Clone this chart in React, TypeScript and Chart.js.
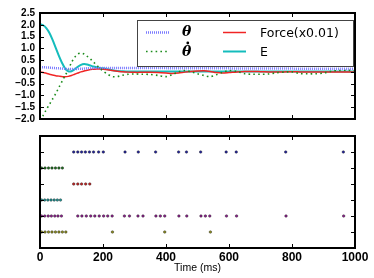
import { useEffect, useRef } from "react";
import { Chart, registerables } from "chart.js";

Chart.register(...registerables);

// ---- data ----
const timeMs = [
  0, 10, 20, 30, 40, 50, 60, 70, 80, 90, 100, 110, 120, 130, 140, 150, 160, 170, 180, 190, 200,
  215, 230, 245, 260, 280, 300, 325, 350, 375, 400, 420, 440, 460, 480, 500, 520, 540, 560, 580, 600,
  625, 650, 675, 700, 725, 750, 775, 800, 825, 850, 875, 900, 925, 950, 975, 1000,
];
const theta = [
  0.2, 0.2, 0.19, 0.18, 0.17, 0.16, 0.15, 0.14, 0.13, 0.12, 0.12, 0.12, 0.13, 0.13, 0.14, 0.15, 0.15, 0.16, 0.16, 0.16, 0.16,
  0.16, 0.16, 0.16, 0.16, 0.16, 0.16, 0.16, 0.16, 0.16, 0.16, 0.15, 0.15, 0.15, 0.15, 0.15, 0.15, 0.15, 0.15, 0.15, 0.15,
  0.14, 0.14, 0.14, 0.14, 0.14, 0.14, 0.14, 0.14, 0.13, 0.13, 0.13, 0.13, 0.13, 0.13, 0.13, 0.13,
];
const thetaDot = [
  -2.05, -1.85, -1.6, -1.38, -1.15, -0.92, -0.66, -0.4, -0.15, 0.1, 0.4, 0.62, 0.76, 0.8, 0.76, 0.66, 0.55, 0.42, 0.28, 0.16, 0.04,
  -0.1, -0.2, -0.2, -0.15, -0.1, -0.09, -0.1, -0.11, -0.15, -0.2, -0.12, 0.0, 0.06, 0.0, -0.08, -0.15, -0.2, -0.12, -0.02, 0.06,
  0.02, -0.08, -0.1, -0.1, -0.09, -0.04, -0.01, 0.0, -0.07, -0.08, -0.08, -0.05, 0.03, 0.06, 0.07, 0.05,
];
const force = [
  0.0, -0.03, -0.06, -0.1, -0.13, -0.16, -0.18, -0.2, -0.21, -0.19, -0.15, -0.1, -0.05, 0.0, 0.04, 0.07, 0.1, 0.11, 0.12, 0.12, 0.11,
  0.09, 0.06, 0.03, 0.01, -0.01, -0.02, -0.02, -0.02, -0.03, -0.05, -0.07, -0.05, -0.01, 0.02, 0.04, 0.05, 0.02, -0.03, -0.05, -0.03,
  0.0, 0.02, 0.02, 0.01, 0.0, -0.01, 0.0, 0.01, 0.0, 0.0, 0.0, 0.0, 0.0, 0.0, 0.0, 0.0,
];
const energy = [
  2.02, 1.98, 1.86, 1.65, 1.36, 1.02, 0.68, 0.38, 0.14, 0.02, 0.03, 0.11, 0.22, 0.3, 0.33, 0.31, 0.27, 0.23, 0.2, 0.17, 0.15,
  0.11, 0.07, 0.04, 0.03, 0.02, 0.02, 0.02, 0.02, 0.02, 0.02, 0.02, 0.02, 0.02, 0.02, 0.02, 0.02, 0.02, 0.02, 0.02, 0.02,
  0.02, 0.02, 0.02, 0.02, 0.02, 0.02, 0.02, 0.02, 0.02, 0.02, 0.02, 0.02, 0.02, 0.02, 0.02, 0.02,
];

const xTicks = [0, 200, 400, 600, 800, 1000];
const yTicksTop = [-2, -1.5, -1, -0.5, 0, 0.5, 1, 1.5, 2, 2.5];
const rasterRows = [1, 2, 3, 4, 5, 6];

const spikesOlive = [5, 16, 27, 38, 49, 60, 71, 82, 230, 396, 541];
const spikesPurple = [
  5, 15, 26, 36, 47, 57, 68, 120, 133, 147, 161, 174, 188, 202, 215, 229, 268, 284, 311, 327, 368, 382, 396,
  441, 466, 511, 525, 539, 592, 624, 781, 964,
];
const spikesCyan = [5, 15, 25, 35, 45, 55, 65];
const spikesRed = [107, 120, 132, 145, 158];
const spikesGreen = [5, 16, 27, 38, 49, 60, 71];
const spikesBlue = [107, 120, 132, 144, 157, 170, 186, 201, 270, 312, 367, 440, 465, 510, 591, 623, 780, 963];

const rasterSpikes = [spikesOlive, spikesPurple, spikesCyan, spikesRed, spikesGreen, spikesBlue];
const rasterColors = ["#8c8c1e", "#8c1e8c", "#1e9494", "#c42020", "#1e6e1e", "#22229c"];

const fmtTick = (v: number) => (v < 0 ? "\u2212" : "") + Math.abs(v).toFixed(1);

function makeFramePlugin(xt: number[], yt: number[]) {
  return {
    id: "frameTicks",
    afterDatasetsDraw(chart: any) {
      const { ctx, chartArea: a, scales } = chart;
      ctx.save();
      ctx.strokeStyle = "#000";
      ctx.lineWidth = 1;
      const L = 4;
      ctx.beginPath();
      for (const v of xt) {
        const px = Math.round(scales.x.getPixelForValue(v)) + 0.5;
        ctx.moveTo(px, a.top);
        ctx.lineTo(px, a.top + L);
        ctx.moveTo(px, a.bottom);
        ctx.lineTo(px, a.bottom - L);
      }
      for (const v of yt) {
        const py = Math.round(scales.y.getPixelForValue(v)) + 0.5;
        ctx.moveTo(a.left, py);
        ctx.lineTo(a.left + L, py);
        ctx.moveTo(a.right, py);
        ctx.lineTo(a.right - L, py);
      }
      ctx.stroke();
      ctx.lineWidth = 2;
      ctx.strokeRect(a.left, a.top, a.right - a.left, a.bottom - a.top);
      ctx.restore();
    },
  };
}

const legendPlugin = {
  id: "customLegend",
  afterDraw(chart: any) {
    const { ctx, chartArea: a } = chart;
    const ds = chart.data.datasets;
    const bx = a.right - 218;
    const by = a.top + 6.5;
    const bw = 216;
    const bh = 46;
    ctx.save();
    ctx.fillStyle = "#fff";
    ctx.fillRect(bx, by, bw, bh);
    ctx.strokeStyle = "#444";
    ctx.lineWidth = 1;
    ctx.strokeRect(Math.round(bx) + 0.5, Math.round(by) + 0.5, bw, bh);
    const slots = [
      { i: 0, col: 0, row: 0 },
      { i: 2, col: 1, row: 0 },
      { i: 1, col: 0, row: 1 },
      { i: 3, col: 1, row: 1 },
    ];
    const colSample = [9, 86];
    const colText = [45, 123];
    const rowY = [13, 32];
    for (const s of slots) {
      const d = ds[s.i];
      const y = by + rowY[s.row];
      ctx.strokeStyle = d.borderColor;
      ctx.lineWidth = d.borderWidth;
      ctx.setLineDash(d.borderDash || []);
      ctx.beginPath();
      ctx.moveTo(bx + colSample[s.col], y);
      ctx.lineTo(bx + colSample[s.col] + 23, y);
      ctx.stroke();
      ctx.setLineDash([]);
      ctx.fillStyle = "#000";
      ctx.textBaseline = "middle";
      ctx.textAlign = "left";
      const label: string = d.label;
      const isGreek = label.startsWith("\u03b8");
      ctx.font = isGreek ? "bold italic 14px 'DejaVu Serif'" : "12.5px 'DejaVu Sans'";
      const tx = bx + colText[s.col];
      if (label.includes("\u0307")) {
        const base = label.replace("\u0307", "");
        ctx.fillText(base, tx, y + 1);
        const w = ctx.measureText(base).width;
        ctx.beginPath();
        ctx.arc(tx + w * 0.62, y - 8.5, 1.4, 0, Math.PI * 2);
        ctx.fill();
      } else {
        ctx.fillText(label, tx, y + (isGreek ? 0 : 1));
      }
    }
    ctx.restore();
  },
};

export default function App() {
  const topRef = useRef<HTMLCanvasElement | null>(null);
  const botRef = useRef<HTMLCanvasElement | null>(null);

  useEffect(() => {
    const pts = (arr: number[]) => timeMs.map((t, k) => ({ x: t, y: arr[k] }));
    const top = new Chart(topRef.current as HTMLCanvasElement, {
      type: "line",
      data: {
        datasets: [
          { label: "\u03b8", data: pts(theta), borderColor: "#7b7bff", borderWidth: 2.5, borderDash: [1, 1], pointRadius: 0, tension: 0.3 },
          { label: "\u03b8\u0307", data: pts(thetaDot), borderColor: "#1c8c1c", borderWidth: 1.6, borderDash: [1.6, 3.2], pointRadius: 0, tension: 0.3 },
          { label: "Force(x0.01)", data: pts(force), borderColor: "#f02424", borderWidth: 1.5, pointRadius: 0, tension: 0.3 },
          { label: "E", data: pts(energy), borderColor: "#14bcbc", borderWidth: 2, pointRadius: 0, tension: 0.3 },
        ] as any,
      },
      options: {
        animation: false,
        responsive: false,
        layout: { padding: { left: 0, right: 19, top: 13, bottom: 5 } },
        plugins: { legend: { display: false }, tooltip: { enabled: false } },
        scales: {
          x: { type: "linear", display: false, min: 0, max: 1000 },
          y: {
            type: "linear",
            min: -2,
            max: 2.5,
            afterBuildTicks: (s: any) => {
              s.ticks = yTicksTop.map((v) => ({ value: v }));
            },
            afterFit: (s: any) => {
              s.width = 40;
            },
            grid: { display: false, drawTicks: false },
            border: { display: false },
            ticks: {
              padding: 5,
              color: "#000",
              autoSkip: false,
              font: { family: "'Liberation Sans'", size: 10, weight: "bold" },
              callback: (v: any) => fmtTick(Number(v)),
            },
          },
        },
      } as any,
      plugins: [makeFramePlugin(xTicks, yTicksTop), legendPlugin],
    });

    const bot = new Chart(botRef.current as HTMLCanvasElement, {
      type: "scatter",
      data: {
        datasets: rasterRows.map((row, k) => ({
          label: "row" + row,
          data: rasterSpikes[k].map((t) => ({ x: t, y: row })),
          backgroundColor: rasterColors[k],
          borderColor: "#222",
          borderWidth: 0.4,
          pointRadius: 1.3,
          showLine: false,
        })),
      },
      options: {
        animation: false,
        responsive: false,
        layout: { padding: { left: 40, right: 19, top: 6, bottom: 0 } },
        plugins: { legend: { display: false }, tooltip: { enabled: false } },
        scales: {
          x: {
            type: "linear",
            min: 0,
            max: 1000,
            afterBuildTicks: (s: any) => {
              s.ticks = xTicks.map((v) => ({ value: v }));
            },
            afterFit: (s: any) => {
              s.height = 30;
            },
            grid: { display: false, drawTicks: false },
            border: { display: false },
            ticks: {
              padding: 2,
              color: "#000",
              autoSkip: false,
              maxRotation: 0,
              font: { family: "'Liberation Sans'", size: 12, weight: "bold" },
              callback: (v: any) => String(v),
            },
            title: {
              display: true,
              text: "Time (ms)",
              color: "#000",
              font: { family: "'Liberation Sans'", size: 10.5 },
              padding: { top: 0, bottom: 4 },
            },
          },
          y: {
            type: "linear",
            display: false,
            min: 0,
            max: 7,
            afterBuildTicks: (s: any) => {
              s.ticks = rasterRows.map((v) => ({ value: v }));
            },
          },
        },
      } as any,
      plugins: [makeFramePlugin(xTicks, rasterRows)],
    });

    return () => {
      top.destroy();
      bot.destroy();
    };
  }, []);

  return (
    <div style={{ position: "fixed", left: 0, top: 0, width: 374, height: 278, background: "#fff" }}>
      <canvas ref={topRef} width={374} height={130} style={{ position: "absolute", left: 0, top: 0 }} />
      <canvas ref={botRef} width={374} height={148} style={{ position: "absolute", left: 0, top: 130 }} />
    </div>
  );
}
